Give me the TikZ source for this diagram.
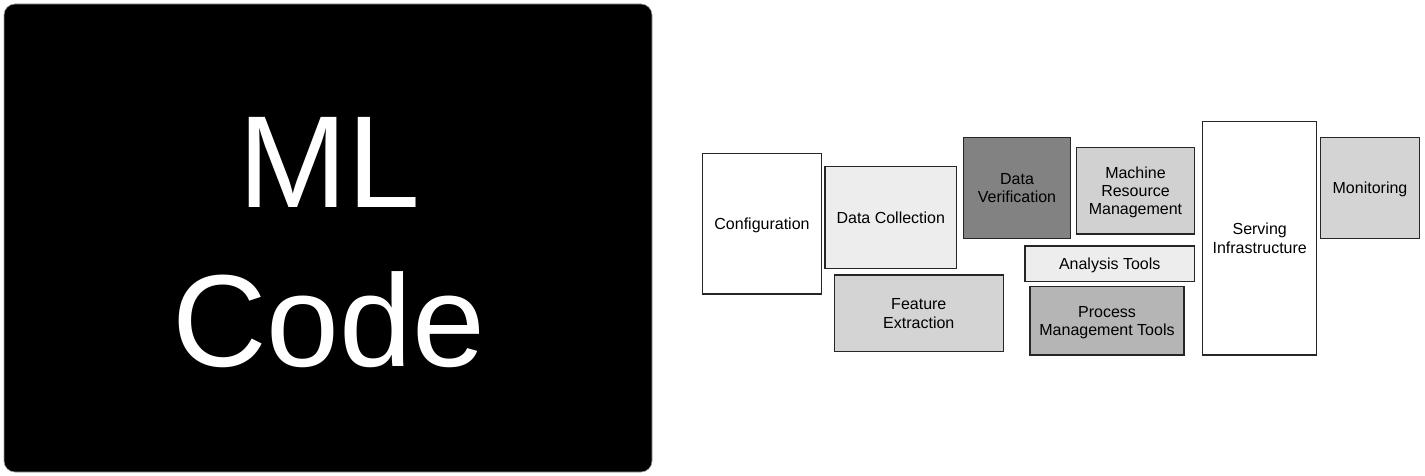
\documentclass[tikz,border=0pt]{standalone}
\usepackage{fontspec}
\setmainfont{Liberation Sans}
\usepackage{xcolor}
\usepackage{tikz}

\begin{document}
\begin{tikzpicture}[x=0.5pt,y=-0.5pt,
	comp/.style={draw=black!85, line width=0.75pt, inner sep=0pt, text depth=0pt, align=center, font=\fontsize{8pt}{9.2pt}\selectfont},
	mlbox/.style={fill=black, draw=black!40, line width=0.3pt, rounded corners=5.5pt, inner sep=0pt},
	mltext/.style={inner sep=0pt, text depth=0pt, text=white, align=center, font=\fontsize{65.5pt}{79.5pt}\selectfont}]
	\useasboundingbox (0,0) rectangle (1425,476);
	\node[mlbox, minimum width=324pt, minimum height=234pt] (ml) at (328,238) {};
	\node[mltext] (mltext) at (329,241.5) {ML\\Code};
	\node[comp, fill=white, minimum width=59.7pt, minimum height=70.35pt] (conf) at (762,223.7) {Configuration};
	\node[comp, fill=black!7, minimum width=65.85pt, minimum height=50.8pt] (dcoll) at (890.8,217.5) {Data Collection};
	\node[comp, fill=black!49, minimum width=53.7pt, minimum height=50.5pt] (dverif) at (1017,187.8) {Data\\Verification};
	\node[comp, fill=black!18, minimum width=58.8pt, minimum height=43.35pt] (mres) at (1135.5,190.7) {Machine\\Resource\\Management};
	\node[comp, fill=black!7, minimum width=84.65pt, minimum height=17.85pt] (ana) at (1109.7,263.8) {Analysis Tools};
	\node[comp, fill=black!17, minimum width=84.5pt, minimum height=38.35pt] (feat) at (918.8,313.3) {Feature\\Extraction};
	\node[comp, fill=black!29, minimum width=77pt, minimum height=34.15pt] (proc) at (1107,320.8) {Process\\Management Tools};
	\node[comp, fill=white, minimum width=57pt, minimum height=116.85pt] (serv) at (1259.7,238.2) {Serving\\Infrastructure};
	\node[comp, fill=black!17, minimum width=49.3pt, minimum height=50.5pt] (mon) at (1370,187.8) {Monitoring};
\end{tikzpicture}
\end{document}
